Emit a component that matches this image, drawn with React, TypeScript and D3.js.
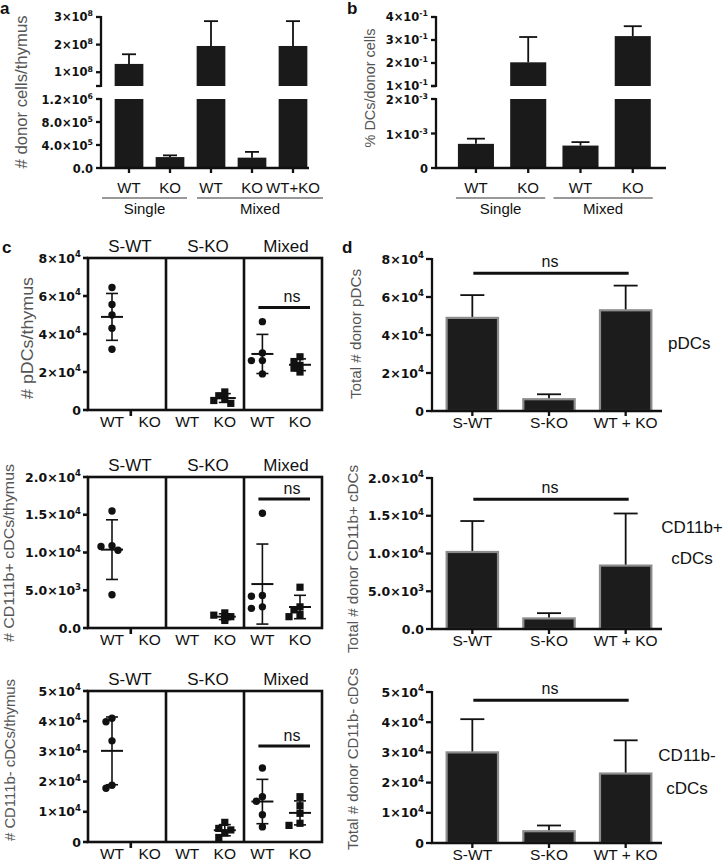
import React from "react";
import * as d3 from "d3";

const FONT = "'Liberation Sans', Arial, Helvetica, sans-serif";
const TICK_FONT = "'DejaVu Sans', Verdana, sans-serif";
const INK = "#111";
const GRAY_TEXT = "#555";

// ---------- Panel a ----------
const aCategories = ["WT", "KO", "WT", "KO", "WT+KO"];
const aMeans = [1.3e8, 1.9e5, 1.95e8, 1.8e5, 1.95e8];
const aErrors = [0.35e8, 0.3e5, 0.9e8, 1.0e5, 0.9e8];
const aUpperDomain = [0.5e8, 3e8];
const aLowerDomain = [0, 1.2e6];
const aUpperTicks = [1e8, 2e8, 3e8];
const aUpperLabels = ["1×10^8", "2×10^8", "3×10^8"];
const aLowerTicks = [0, 4e5, 8e5, 1.2e6];
const aLowerLabels = ["0.0", "4.0×10^5", "8.0×10^5", "1.2×10^6"];
const aGroupLabels = ["Single", "Mixed"];
const aGroupSpans = [[0, 1], [2, 4]];

// ---------- Panel b ----------
const bCategories = ["WT", "KO", "WT", "KO"];
const bMeans = [0.7e-3, 2.03e-1, 0.65e-3, 3.17e-1];
const bErrors = [0.15e-3, 1.1e-1, 0.1e-3, 0.43e-1];
const bUpperDomain = [1e-1, 4e-1];
const bLowerDomain = [0, 2e-3];
const bUpperTicks = [1e-1, 2e-1, 3e-1, 4e-1];
const bUpperLabels = ["1×10^-1", "2×10^-1", "3×10^-1", "4×10^-1"];
const bLowerTicks = [0, 1e-3, 2e-3];
const bLowerLabels = ["0", "1×10^-3", "2×10^-3"];
const bGroupLabels = ["Single", "Mixed"];
const bGroupSpans = [[0, 1], [2, 3]];

// ---------- Panel c ----------
const cCatKeys = ["SWT_WT", "SWT_KO", "SKO_WT", "SKO_KO", "MIX_WT", "MIX_KO"];
const cCatLabels = ["WT", "KO", "WT", "KO", "WT", "KO"];
const cMarkers = ["circle", "square", "circle", "square", "circle", "square"];
const cPanelTitles = ["S-WT", "S-KO", "Mixed"];

const pdcPoints = [
  [6.45e4, 5.55e4, 5.0e4, 4.3e4, 3.2e4],
  [],
  [],
  [9.5e3, 7.5e3, 6.0e3, 5.0e3, 3.5e3],
  [4.65e4, 3.0e4, 2.6e4, 2.6e4, 1.9e4],
  [2.8e4, 2.55e4, 2.35e4, 2.2e4, 2.0e4],
];
const cd11bPosPoints = [
  [1.55e4, 1.09e4, 1.08e4, 1.03e4, 4.4e3],
  [],
  [],
  [2.0e3, 1.7e3, 1.5e3, 1.3e3, 1.0e3],
  [1.52e4, 4.3e3, 4.2e3, 2.8e3, 2.6e3],
  [5.4e3, 2.8e3, 2.4e3, 1.8e3, 1.5e3],
];
const cd11bNegPoints = [
  [4.1e4, 3.98e4, 3.35e4, 1.88e4, 1.78e4],
  [],
  [],
  [6.5e3, 4.5e3, 4.0e3, 3.0e3, 1.5e3],
  [2.45e4, 1.5e4, 1.35e4, 0.9e4, 0.5e4],
  [1.5e4, 1.2e4, 0.95e4, 0.62e4, 0.55e4],
];

// ---------- Panel d ----------
const dCategories = ["S-WT", "S-KO", "WT + KO"];
const dPdcMeans = [4.9e4, 6.2e3, 5.3e4];
const dPdcErrors = [1.2e4, 2.6e3, 1.3e4];
const dPosMeans = [1.02e4, 1.4e3, 8.4e3];
const dPosErrors = [4.1e3, 0.7e3, 6.9e3];
const dNegMeans = [3.0e4, 3.9e3, 2.3e4];
const dNegErrors = [1.1e4, 1.9e3, 1.1e4];

// ---------- shared row ticks ----------
const row1Ticks = [0, 2e4, 4e4, 6e4, 8e4];
const row1Labels = ["0", "2×10^4", "4×10^4", "6×10^4", "8×10^4"];
const row2Ticks = [0, 5e3, 1e4, 1.5e4, 2e4];
const row2Labels = ["0.0", "5.0×10^3", "1.0×10^4", "1.5×10^4", "2.0×10^4"];
const row3Ticks = [0, 1e4, 2e4, 3e4, 4e4, 5e4];
const row3Labels = ["0", "1×10^4", "2×10^4", "3×10^4", "4×10^4", "5×10^4"];
const rowMax = [8e4, 2e4, 5e4];
const cNsValues = [5.4e4, 1.71e4, 3.18e4];
const dNsValues = [7.25e4, 1.72e4, 4.73e4];

const cYLabels = ["# pDCs/thymus", "# CD111b+ cDCs/thymus", "# CD111b- cDCs/thymus"];
const dYLabels = ["Total # donor pDCs", "Total # donor CD11b+ cDCs", "Total # donor CD11b- cDCs"];

function SciLabel({ x, y, label, size = 12.5 }) {
  const parts = label.split("^");
  return (
    <text
      x={x}
      y={y}
      dy="0.36em"
      textAnchor="end"
      fontFamily={TICK_FONT}
      fontWeight="bold"
      fontSize={size}
      fill={INK}
    >
      {parts[0]}
      {parts.length > 1 && (
        <tspan dy={-size * 0.42} fontSize={size * 0.68}>
          {parts[1]}
        </tspan>
      )}
    </text>
  );
}

function YLabel({ x, y, text, size, len }) {
  return (
    <text
      transform={`translate(${x},${y}) rotate(-90)`}
      textAnchor="middle"
      dy="0.35em"
      fontSize={size}
      fill={GRAY_TEXT}
      textLength={len}
      lengthAdjust="spacingAndGlyphs"
    >
      {text}
    </text>
  );
}

function BrokenBars({
  cats, means, errs, upperDomain, lowerDomain, upperTicks, upperLabels,
  lowerTicks, lowerLabels, axisX, bandRange, padding, baseEnd, capW,
  groupLabels, groupSpans, groupExt,
}) {
  const uTop = 17, uBot = 86, lTop = 99, lBot = 168;
  const yU = d3.scaleLinear().domain(upperDomain).range([uBot, uTop]);
  const yL = d3.scaleLinear().domain(lowerDomain).range([lBot, lTop]);
  const keys = cats.map((_, i) => String(i));
  const x = d3.scaleBand().domain(keys).range(bandRange).padding(padding);
  const bw = x.bandwidth();
  const cx = (i) => (x(String(i)) as number) + bw / 2;
  const lw = 2.3;
  const tickSize = 11.5;
  return (
    <g>
      {means.map((v, i) => {
        const x0 = x(String(i)) as number;
        const top = v + errs[i];
        const inUpper = v > lowerDomain[1];
        const yv = inUpper ? yU(v) : yL(v);
        const ye = inUpper ? yU(top) : yL(top);
        return (
          <g key={i}>
            {inUpper ? (
              <>
                <rect x={x0} y={lTop} width={bw} height={lBot - lTop} fill="#1a1a1a" />
                <rect x={x0} y={yv} width={bw} height={uBot - yv} fill="#1a1a1a" />
              </>
            ) : (
              <rect x={x0} y={yv} width={bw} height={lBot - yv} fill="#1a1a1a" />
            )}
            <line x1={cx(i)} x2={cx(i)} y1={yv} y2={ye} stroke={INK} strokeWidth={1.8} />
            <line x1={cx(i) - capW / 2} x2={cx(i) + capW / 2} y1={ye} y2={ye} stroke={INK} strokeWidth={1.8} />
          </g>
        );
      })}
      <line x1={axisX} x2={axisX} y1={uTop - 1} y2={uBot + 1} stroke={INK} strokeWidth={lw} />
      <line x1={axisX} x2={axisX} y1={lTop - 1} y2={lBot} stroke={INK} strokeWidth={lw} />
      <line x1={axisX - 5} x2={axisX} y1={uBot} y2={uBot} stroke={INK} strokeWidth={lw} />
      {upperTicks.map((t, i) => (
        <g key={"u" + i}>
          <line x1={axisX - 5} x2={axisX} y1={yU(t)} y2={yU(t)} stroke={INK} strokeWidth={lw} />
          <SciLabel x={axisX - 8} y={yU(t)} label={upperLabels[i]} size={tickSize} />
        </g>
      ))}
      {lowerTicks.map((t, i) => (
        <g key={"l" + i}>
          <line x1={axisX - 5} x2={axisX} y1={yL(t)} y2={yL(t)} stroke={INK} strokeWidth={lw} />
          <SciLabel x={axisX - 8} y={yL(t) + 1} label={lowerLabels[i]} size={tickSize} />
        </g>
      ))}
      <line x1={axisX - 1} x2={baseEnd} y1={lBot} y2={lBot} stroke={INK} strokeWidth={lw} />
      {cats.map((c, i) => (
        <g key={"x" + i}>
          <line x1={cx(i)} x2={cx(i)} y1={lBot} y2={lBot + 5} stroke={INK} strokeWidth={lw} />
          <text x={cx(i)} y={lBot + 25} textAnchor="middle" fontSize={15} fill={INK}>
            {c}
          </text>
        </g>
      ))}
      {groupSpans.map((s, gi) => {
        const x1 = cx(s[0]) - groupExt[gi][0];
        const x2 = cx(s[1]) + groupExt[gi][1];
        return (
          <g key={"g" + gi}>
            <line x1={x1} x2={x2} y1={198} y2={198} stroke="#777" strokeWidth={1.5} />
            <text x={(x1 + x2) / 2} y={214} textAnchor="middle" fontSize={15} fill={INK}>
              {groupLabels[gi]}
            </text>
          </g>
        );
      })}
    </g>
  );
}

const ROW_TOP = [258, 477, 691];
const ROW_BOTTOM = [410, 628, 842];
const ROW_TICKS = [row1Ticks, row2Ticks, row3Ticks];
const ROW_LABELS = [row1Labels, row2Labels, row3Labels];
const C_POINTS = [pdcPoints, cd11bPosPoints, cd11bNegPoints];
const D_MEANS = [dPdcMeans, dPosMeans, dNegMeans];
const D_ERRS = [dPdcErrors, dPosErrors, dNegErrors];

function swarm(vals, y, minDist) {
  const placed = [];
  const offsets = [0, -6, 6, -11, 11];
  return vals.map((v) => {
    const py = y(v);
    for (const o of offsets) {
      if (placed.every((p) => Math.hypot(p.dx - o, p.y - py) >= minDist)) {
        placed.push({ dx: o, y: py });
        return { dx: o, y: py };
      }
    }
    placed.push({ dx: 0, y: py });
    return { dx: 0, y: py };
  });
}

function DotRow({ r }) {
  const top = ROW_TOP[r], bottom = ROW_BOTTOM[r];
  const y = d3.scaleLinear().domain([0, rowMax[r]]).range([bottom, top]);
  const x = d3.scalePoint().domain(cCatKeys).range([112, 300]);
  const panels = d3.scaleBand().domain(cPanelTitles).range([88, 322]);
  const left = 88, right = 322;
  const pts = C_POINTS[r];
  const lw = 2.6;
  const nsY = y(cNsValues[r]);
  return (
    <g>
      <rect x={left} y={top} width={right - left} height={bottom - top} fill="none" stroke={INK} strokeWidth={lw} />
      {cPanelTitles.slice(1).map((p) => (
        <line key={p} x1={panels(p)} x2={panels(p)} y1={top} y2={bottom} stroke={INK} strokeWidth={lw} />
      ))}
      {cPanelTitles.map((p) => (
        <text key={"t" + p} x={(panels(p) as number) + panels.bandwidth() / 2 + 3} y={top - 6} textAnchor="middle" fontSize={17} fill={INK}>
          {p}
        </text>
      ))}
      {ROW_TICKS[r].map((t, i) => (
        <g key={"yt" + i}>
          <line x1={left - 5} x2={left} y1={y(t)} y2={y(t)} stroke={INK} strokeWidth={lw} />
          <SciLabel x={left - 7} y={y(t)} label={ROW_LABELS[r][i]} />
        </g>
      ))}
      <line
        x1={((x(cCatKeys[0]) as number) + (x(cCatKeys[1]) as number)) / 2}
        x2={((x(cCatKeys[0]) as number) + (x(cCatKeys[1]) as number)) / 2}
        y1={bottom}
        y2={bottom + 6}
        stroke={INK}
        strokeWidth={lw}
      />
      {cCatKeys.map((k, i) => (
        <text key={"xl" + k} x={x(k)} y={bottom + 17} textAnchor="middle" fontSize={15.5} fill={INK}>
          {cCatLabels[i]}
        </text>
      ))}
      {cCatKeys.map((k, i) => {
        const vals = pts[i];
        if (!vals.length) return null;
        const cx = x(k) as number;
        const m = d3.mean(vals) as number;
        const sd = d3.deviation(vals) as number;
        const placed = swarm(vals, y, 6.5);
        return (
          <g key={"p" + k}>
            {placed.map((p, j) =>
              cMarkers[i] === "circle" ? (
                <circle key={j} cx={cx + p.dx} cy={p.y} r={3.7} fill={INK} />
              ) : (
                <rect key={j} x={cx + p.dx - 3.6} y={p.y - 3.6} width={7.2} height={7.2} fill={INK} />
              )
            )}
            <line x1={cx} x2={cx} y1={y(m + sd)} y2={y(Math.max(0, m - sd))} stroke={INK} strokeWidth={1.6} />
            <line x1={cx - 6} x2={cx + 6} y1={y(m + sd)} y2={y(m + sd)} stroke={INK} strokeWidth={1.6} />
            <line x1={cx - 6} x2={cx + 6} y1={y(Math.max(0, m - sd))} y2={y(Math.max(0, m - sd))} stroke={INK} strokeWidth={1.6} />
            <line x1={cx - 11} x2={cx + 11} y1={y(m)} y2={y(m)} stroke={INK} strokeWidth={2} />
          </g>
        );
      })}
      <line x1={(x("MIX_WT") as number) - 4} x2={(x("MIX_KO") as number) + 10} y1={nsY} y2={nsY} stroke={INK} strokeWidth={3} />
      <text x={(x("MIX_KO") as number) - 8} y={nsY - 5} textAnchor="middle" fontSize={16} fill={INK}>
        ns
      </text>
    </g>
  );
}

function BarRow({ r }) {
  const top = ROW_TOP[r] + 1, bottom = ROW_BOTTOM[r] + 1;
  const y = d3.scaleLinear().domain([0, rowMax[r]]).range([bottom, top]);
  const x = d3.scaleBand().domain(dCategories).range([434, 664]).paddingInner(0.33).paddingOuter(0.165);
  const bw = x.bandwidth();
  const axisX = 432;
  const lw = 2.3;
  const means = D_MEANS[r], errs = D_ERRS[r];
  const nsY = y(dNsValues[r]);
  const c0 = (x(dCategories[0]) as number) + bw / 2;
  const c2 = (x(dCategories[2]) as number) + bw / 2;
  return (
    <g>
      {dCategories.map((c, i) => {
        const x0 = x(c) as number;
        const cx = x0 + bw / 2;
        const yv = y(means[i]);
        const ye = y(means[i] + errs[i]);
        return (
          <g key={c}>
            <line x1={cx} x2={cx} y1={yv} y2={ye} stroke={INK} strokeWidth={1.8} />
            <line x1={cx - 12} x2={cx + 12} y1={ye} y2={ye} stroke={INK} strokeWidth={1.8} />
            <rect x={x0} y={yv} width={bw} height={bottom - yv} fill="#1c1c1c" stroke="#8c8c8c" strokeWidth={2.2} />
          </g>
        );
      })}
      <line x1={axisX} x2={axisX} y1={top - 1} y2={bottom} stroke={INK} strokeWidth={lw} />
      {ROW_TICKS[r].map((t, i) => (
        <g key={"yt" + i}>
          <line x1={axisX - 6} x2={axisX} y1={y(t)} y2={y(t)} stroke={INK} strokeWidth={lw} />
          <SciLabel x={axisX - 8} y={y(t)} label={ROW_LABELS[r][i]} />
        </g>
      ))}
      <line x1={axisX - 1} x2={662} y1={bottom} y2={bottom} stroke={INK} strokeWidth={lw} />
      {dCategories.map((c) => {
        const cx = (x(c) as number) + bw / 2;
        return (
          <g key={"xl" + c}>
            <line x1={cx} x2={cx} y1={bottom} y2={bottom + 5} stroke={INK} strokeWidth={lw} />
            <text x={cx} y={bottom + 17} textAnchor="middle" fontSize={15.5} fill={INK}>
              {c}
            </text>
          </g>
        );
      })}
      <line x1={c0 + 1} x2={c2 + 3} y1={nsY} y2={nsY} stroke={INK} strokeWidth={3} />
      <text x={(c0 + c2) / 2 + 1} y={nsY - 6} textAnchor="middle" fontSize={16} fill={INK}>
        ns
      </text>
    </g>
  );
}

export default function App() {
  return (
    <svg
      width={728}
      height={866}
      viewBox="0 0 728 866"
      style={{ position: "absolute", left: 0, top: 0, background: "#fff" }}
      fontFamily={FONT}
    >
      <rect width={728} height={866} fill="#fff" />
      <text x={0} y={14} fontSize={17} fontWeight="bold" fill={INK}>a</text>
      <text x={347} y={14} fontSize={17} fontWeight="bold" fill={INK}>b</text>
      <text x={2} y={253} fontSize={17} fontWeight="bold" fill={INK}>c</text>
      <text x={342} y={253} fontSize={17} fontWeight="bold" fill={INK}>d</text>

      <YLabel x={21} y={92} text="# donor cells/thymus" size={16} len={153} />
      <BrokenBars
        cats={aCategories}
        means={aMeans}
        errs={aErrors}
        upperDomain={aUpperDomain}
        lowerDomain={aLowerDomain}
        upperTicks={aUpperTicks}
        upperLabels={aUpperLabels}
        lowerTicks={aLowerTicks}
        lowerLabels={aLowerLabels}
        axisX={101}
        bandRange={[102.35, 319.65]}
        padding={0.3}
        baseEnd={309}
        capW={14}
        groupLabels={aGroupLabels}
        groupSpans={aGroupSpans}
        groupExt={[[27, 17], [14, 30]]}
      />

      <YLabel x={370} y={88} text="% DCs/donor cells" size={15} len={119} />
      <BrokenBars
        cats={bCategories}
        means={bMeans}
        errs={bErrors}
        upperDomain={bUpperDomain}
        lowerDomain={bLowerDomain}
        upperTicks={bUpperTicks}
        upperLabels={bUpperLabels}
        lowerTicks={bLowerTicks}
        lowerLabels={bLowerLabels}
        axisX={436}
        bandRange={[441.7, 667]}
        padding={0.31}
        baseEnd={666}
        capW={18}
        groupLabels={bGroupLabels}
        groupSpans={bGroupSpans}
        groupExt={[[20, 17], [27, 20]]}
      />

      <YLabel x={27} y={338} text={cYLabels[0]} size={16} len={122} />
      <YLabel x={9} y={553} text={cYLabels[1]} size={15.5} len={178} />
      <YLabel x={10} y={760} text={cYLabels[2]} size={15} len={162} />
      {[0, 1, 2].map((r) => (
        <DotRow key={"c" + r} r={r} />
      ))}

      <YLabel x={356} y={334} text={dYLabels[0]} size={15} len={130} />
      <YLabel x={353} y={559} text={dYLabels[1]} size={15} len={188} />
      <YLabel x={353} y={759} text={dYLabels[2]} size={15} len={182} />
      {[0, 1, 2].map((r) => (
        <BarRow key={"d" + r} r={r} />
      ))}

      <text x={668} y={349} fontSize={17} fill={INK}>pDCs</text>
      <text x={692} y={533} fontSize={17} fill={INK} textAnchor="middle">CD11b+</text>
      <text x={692} y={564} fontSize={17} fill={INK} textAnchor="middle">cDCs</text>
      <text x={687} y={761} fontSize={17} fill={INK} textAnchor="middle">CD11b-</text>
      <text x={687} y={794} fontSize={17} fill={INK} textAnchor="middle">cDCs</text>
    </svg>
  );
}
